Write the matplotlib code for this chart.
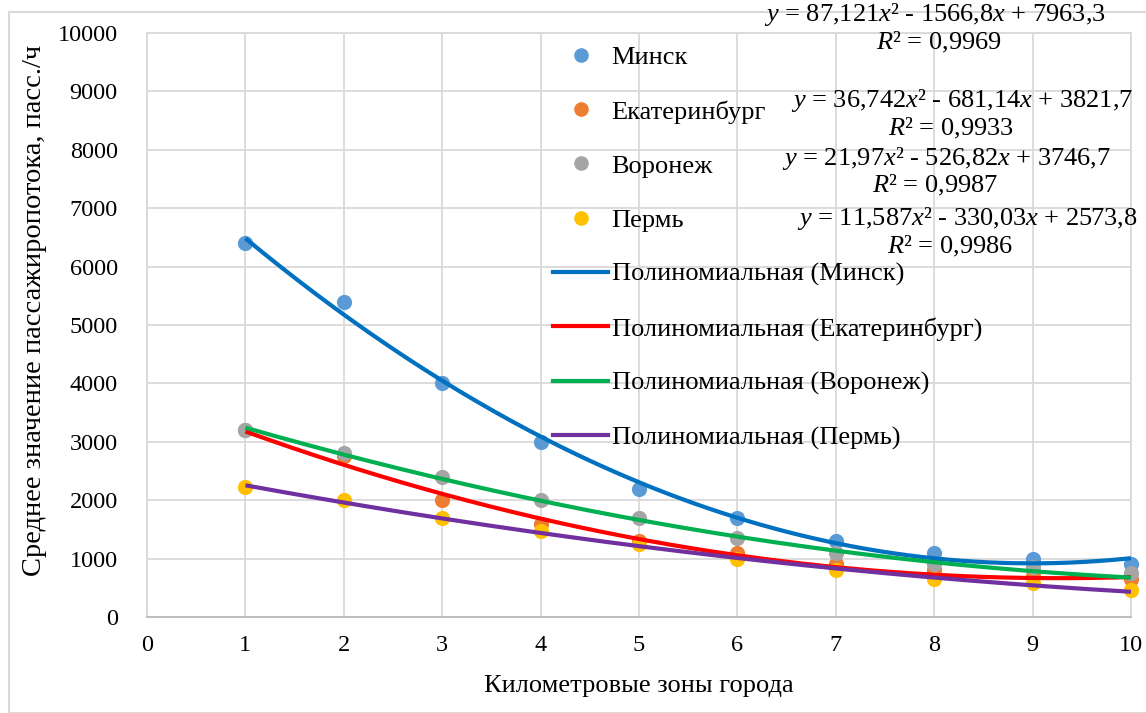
import matplotlib
matplotlib.use("Agg")
import matplotlib.pyplot as plt
import numpy as np
from matplotlib.lines import Line2D
from matplotlib.patches import Rectangle

plt.rcParams['font.family'] = ['Liberation Serif', 'DejaVu Serif']
plt.rcParams['mathtext.fontset'] = 'custom'
plt.rcParams['mathtext.rm'] = 'Liberation Serif'
plt.rcParams['mathtext.it'] = 'Liberation Serif:italic'

zones = [1, 2, 3, 4, 5, 6, 7, 8, 9, 10]
cities = ["Минск", "Екатеринбург", "Воронеж", "Пермь"]
minsk = [6400, 5400, 4000, 3000, 2200, 1700, 1300, 1100, 1000, 900]
ekb = [3200, 2750, 2000, 1600, 1300, 1100, 900, 800, 700, 650]
voronezh = [3200, 2800, 2400, 2000, 1700, 1350, 1100, 900, 850, 750]
perm = [2230, 2000, 1700, 1470, 1250, 1000, 800, 650, 580, 470]
series = [minsk, ekb, voronezh, perm]

# trendline coefficients (a, b, c) as printed on the chart
coef_minsk = (87.121, -1566.8, 7963.3)
coef_ekb = (36.742, -681.14, 3821.7)
coef_voronezh = (21.97, -526.82, 3746.7)
coef_perm = (11.587, -330.03, 2573.8)
coefs = [coef_minsk, coef_ekb, coef_voronezh, coef_perm]
r2 = ["0,9969", "0,9933", "0,9987", "0,9986"]
eq_text = [
    r"$y$ = 87,121$x$² - 1566,8$x$ + 7963,3",
    r"$y$ = 36,742$x$² - 681,14$x$ + 3821,7",
    r"$y$ = 21,97$x$² - 526,82$x$ + 3746,7",
    r"$y$ = 11,587$x$² - 330,03$x$ + 2573,8",
]

x_label = "Километровые зоны города"
y_label = "Среднее значение пассажиропотока, пасс./ч"

point_colors = ["#5B9BD5", "#ED7D31", "#A5A5A5", "#FFC000"]
line_colors = ["#0070C0", "#FF0000", "#00B050", "#7030A0"]

W, H = 1146, 713
fig = plt.figure(figsize=(W / 100, H / 100), dpi=100)
fig.patches.append(Rectangle((9 / W, 0), 1.2, (H - 12) / H, transform=fig.transFigure,
                             fill=False, edgecolor="#D9D9D9", linewidth=1.5))

ax = fig.add_axes([147 / W, (H - 617) / H, (1131 - 147) / W, (617 - 33) / H])
ax.set_xlim(0, 10)
ax.set_ylim(0, 10000)
ax.set_xticks(range(0, 11))
ax.set_yticks(range(0, 10001, 1000))
ax.grid(True, color="#D9D9D9", linewidth=1.3)
ax.set_axisbelow(True)
for s in ["top", "right", "left"]:
    ax.spines[s].set_color("#D9D9D9")
    ax.spines[s].set_linewidth(1.3)
ax.spines["bottom"].set_color("#BFBFBF")
ax.spines["bottom"].set_linewidth(1.5)
ax.tick_params(length=0, labelsize=17.5)
ax.tick_params(axis="x", pad=13)
ax.tick_params(axis="y", pad=21)

for vals, c in zip(series, point_colors):
    ax.scatter(zones, vals, s=120, color=c, zorder=3, linewidths=0, clip_on=False)

xs = np.linspace(zones[0], zones[-1], 200)
for (a, b, c0), lc in zip(coefs, line_colors):
    ax.plot(xs, a * xs ** 2 + b * xs + c0, color=lc, linewidth=3, zorder=4,
            solid_capstyle="butt", clip_on=False)

ax.set_xlabel(x_label, fontsize=19)
ax.set_ylabel(y_label, fontsize=20.5)
ax.xaxis.set_label_coords(0.5, -(686 - 617) / 584)
ax.xaxis.label.set_va("center")
ax.yaxis.set_label_coords(-(147 - 35) / 984, (617 - 310) / 584)
ax.yaxis.label.set_va("center")

handles = []
labels = []
for name, c in zip(cities, point_colors):
    handles.append(Line2D([], [], linestyle="none", marker="o", markersize=10.5,
                          markerfacecolor=c, markeredgewidth=0))
    labels.append(name)
for name, lc in zip(cities, line_colors):
    handles.append(Line2D([], [], color=lc, linewidth=3))
    labels.append("Полиномиальная (" + name + ")")
leg = fig.legend(handles, labels, loc="upper left",
                 bbox_to_anchor=(553 / W, 1 - 46 / H), frameon=False,
                 fontsize=19, handlelength=2.1, handletextpad=0.12,
                 labelspacing=1.16, borderaxespad=0, borderpad=0)
leg.set_zorder(5)

eq_pos = [(935, 15), (962, 101), (947, 158), (967, 218)]
r2_pos = [(939, 42), (951, 128), (935, 185), (950, 246)]
for t, (px, py) in zip(eq_text, eq_pos):
    fig.text(px / W, 1 - py / H, t, ha="center", va="center", fontsize=19)
for r, (px, py) in zip(r2, r2_pos):
    fig.text(px / W, 1 - py / H, r"$R$² = " + r, ha="center", va="center", fontsize=19)

fig.savefig("out.png", dpi=100)
